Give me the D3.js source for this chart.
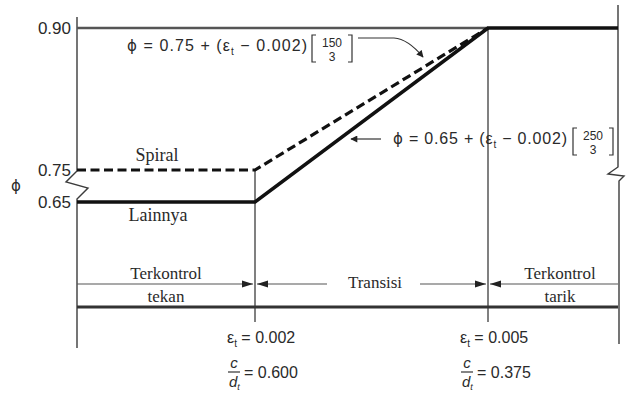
<!DOCTYPE html>
<html lang="id">
<head>
<meta charset="UTF-8" />
<title>Faktor reduksi kekuatan</title>
<script src="https://d3js.org/d3.v7.min.js"></script>
<style>
  body { margin: 0; background: #fff; }
  .num { font-family: "Liberation Sans", Arial, sans-serif; fill: #2a2a2a; }
  .lbl { font-family: "Liberation Serif", "Times New Roman", serif; fill: #2a2a2a; }
  .phi { font-family: "DejaVu Sans", sans-serif; }
</style>
</head>
<body>
<svg width="626" height="399"></svg>
<script>
// nilai phi pada sumbu tegak
var phiTicks = [0.65, 0.75, 0.90]
// regangan batas dan rasio c/dt
var strainMarks = [0.002, 0.005]
var cdRatios = ['0.600', '0.375']
// kurva phi
var spiralStrain = [0, 0.002, 0.005]
var spiralPhi = [0.75, 0.75, 0.90]
var otherStrain = [0, 0.002, 0.005, 0.007]
var otherPhi = [0.65, 0.65, 0.90, 0.90]
// label zona
var zoneNames = [['Terkontrol', 'tekan'], ['Transisi'], ['Terkontrol', 'tarik']]
var zoneEdges = [0, 0.002, 0.005, 0.007]

var svg = d3.select('svg')

// skala sengaja dipatah (diagram skematis)
var x = d3.scaleLinear().domain([0, 0.002, 0.005, 0.007]).range([77, 255, 488, 618])
var y = d3.scaleLinear().domain([0.65, 0.75, 0.90]).range([202, 170, 28])

var frame = '#3c3c3c'
var yArrow = 284, yBase = 307

// bingkai kiri dengan patahan
svg.append('path')
  .attr('d', 'M' + x(0) + ',17 V' + (y(0.75) + 1) + ' L66,182 L88,188 L' + x(0) + ',' + (y(0.65) - 3) + ' V348')
  .attr('fill', 'none').attr('stroke', frame).attr('stroke-width', 1.4)

// bingkai kanan dengan patahan
svg.append('path')
  .attr('d', 'M' + x(0.007) + ',5 V167 L608,174 L624,176 L' + (x(0.007) + 1) + ',181 V344')
  .attr('fill', 'none').attr('stroke', frame).attr('stroke-width', 1.4)

// garis atas 0.90
svg.append('line')
  .attr('x1', x(0)).attr('x2', x(0.005)).attr('y1', y(0.90)).attr('y2', y(0.90))
  .attr('stroke', '#555').attr('stroke-width', 2.4)

// garis tegak batas regangan
svg.selectAll('.vmark').data(strainMarks).enter().append('line')
  .attr('x1', function (d) { return x(d) }).attr('x2', function (d) { return x(d) })
  .attr('y1', function (d, i) { return i === 0 ? y(0.75) : y(0.90) })
  .attr('y2', 322)
  .attr('stroke', frame).attr('stroke-width', 1.3)

// garis dasar tebal
svg.append('line')
  .attr('x1', x(0)).attr('x2', x(0.007)).attr('y1', yBase).attr('y2', yBase)
  .attr('stroke', '#333').attr('stroke-width', 3)

// garis panah zona
var gaps = [[x(0), x(0.002) - 2], [x(0.002) + 2, 327], [420, x(0.005) - 2], [x(0.005) + 2, x(0.007)]]
svg.selectAll('.zline').data(gaps).enter().append('line')
  .attr('x1', function (d) { return d[0] }).attr('x2', function (d) { return d[1] })
  .attr('y1', yArrow).attr('y2', yArrow)
  .attr('stroke', '#555').attr('stroke-width', 1.2)

strainMarks.forEach(function (s) {
  var cx = x(s)
  svg.append('path')
    .attr('d', 'M' + (cx - 2) + ',' + yArrow + ' l-11,-3.5 v7 z M' + (cx + 2) + ',' + yArrow + ' l11,-3.5 v7 z')
    .attr('fill', '#222')
})

// label zona
zoneNames.forEach(function (names, i) {
  var cx = (x(zoneEdges[i]) + x(zoneEdges[i + 1])) / 2
  if (i === 2) cx = 560
  if (i === 1) cx = 375
  if (names.length === 2) {
    svg.append('text').attr('class', 'lbl').attr('x', cx).attr('y', 279)
      .attr('text-anchor', 'middle').attr('font-size', 17).text(names[0])
    svg.append('text').attr('class', 'lbl').attr('x', cx).attr('y', 302)
      .attr('text-anchor', 'middle').attr('font-size', 17).text(names[1])
  } else {
    svg.append('text').attr('class', 'lbl').attr('x', cx).attr('y', 288)
      .attr('text-anchor', 'middle').attr('font-size', 17).text(names[0])
  }
})

// kurva phi
var line = d3.line().x(function (d) { return x(d[0]) }).y(function (d) { return y(d[1]) })

svg.append('path')
  .datum(d3.zip(spiralStrain, spiralPhi))
  .attr('d', line)
  .attr('fill', 'none').attr('stroke', '#111').attr('stroke-width', 3.2)
  .attr('stroke-dasharray', '9,4.5')

svg.append('path')
  .datum(d3.zip(otherStrain, otherPhi))
  .attr('d', line)
  .attr('fill', 'none').attr('stroke', '#111').attr('stroke-width', 3.6)
  .attr('stroke-linejoin', 'miter')

// label kurva
svg.append('text').attr('class', 'lbl').attr('x', 157).attr('y', 161)
  .attr('text-anchor', 'middle').attr('font-size', 18).text('Spiral')
svg.append('text').attr('class', 'lbl').attr('x', 158).attr('y', 221)
  .attr('text-anchor', 'middle').attr('font-size', 18).text('Lainnya')

// label sumbu tegak
svg.selectAll('.ytick').data(phiTicks).enter().append('text')
  .attr('class', 'num')
  .attr('x', 71).attr('y', function (d) { return y(d) + 6 })
  .attr('text-anchor', 'end').attr('font-size', 17)
  .text(function (d) { return d.toFixed(2) })

svg.append('text').attr('class', 'phi').attr('x', 16).attr('y', 191)
  .attr('text-anchor', 'middle').attr('font-size', 15).attr('fill', '#2a2a2a').text('ϕ')

// rumus dengan kurung pecahan
function formula(x0, yb, base, num, fx, len) {
  var t = svg.append('text').attr('class', 'num').attr('x', x0).attr('y', yb).attr('font-size', 16)
  t.append('tspan').attr('class', 'phi').attr('font-size', 15).text('ϕ')
  t.append('tspan').text(' = ' + base + ' + (ε')
  t.append('tspan').attr('dy', 4).attr('font-size', 10).text('t')
  t.append('tspan').attr('dy', -4).text(' − 0.002)')
  if (len) t.attr('textLength', len).attr('lengthAdjust', 'spacing')
  var top = yb - 16, bot = yb + 11
  svg.append('path')
    .attr('d', 'M' + (fx + 4) + ',' + top + ' h-4 V' + bot + ' h4 M' + (fx + 36) + ',' + top + ' h4 V' + bot + ' h-4')
    .attr('fill', 'none').attr('stroke', '#333').attr('stroke-width', 1.2)
  svg.append('text').attr('class', 'num').attr('x', fx + 20).attr('y', yb - 4)
    .attr('text-anchor', 'middle').attr('font-size', 12).text(num)
  svg.append('text').attr('class', 'num').attr('x', fx + 20).attr('y', yb + 10)
    .attr('text-anchor', 'middle').attr('font-size', 12).text('3')
}

formula(127, 51, '0.75', '150', 312, 180)
formula(393, 144, '0.65', '250', 573, 174)

// panah penunjuk rumus
svg.append('defs').append('marker')
  .attr('id', 'head').attr('viewBox', '0 0 10 10').attr('refX', 9).attr('refY', 5)
  .attr('markerWidth', 9).attr('markerHeight', 7).attr('orient', 'auto')
  .attr('markerUnits', 'userSpaceOnUse')
  .append('path').attr('d', 'M0,0 L10,5 L0,10 z').attr('fill', '#222')

svg.append('path')
  .attr('d', 'M358,38 L394,38 Q408,39 423,57')
  .attr('fill', 'none').attr('stroke', '#333').attr('stroke-width', 1.2)
  .attr('marker-end', 'url(#head)')

svg.append('path')
  .attr('d', 'M381,139 L351,139')
  .attr('fill', 'none').attr('stroke', '#333').attr('stroke-width', 1.2)
  .attr('marker-end', 'url(#head)')

// regangan dan rasio c/dt di bawah garis tegak
strainMarks.forEach(function (s, i) {
  var x0 = x(s) - 28
  var t = svg.append('text').attr('class', 'num').attr('x', x0).attr('y', 343).attr('font-size', 16)
  t.append('tspan').text('ε')
  t.append('tspan').attr('dy', 4).attr('font-size', 10).text('t')
  t.append('tspan').attr('dy', -4).text(' = ' + s.toFixed(3))

  svg.append('text').attr('class', 'num').attr('x', x0 + 7).attr('y', 368)
    .attr('text-anchor', 'middle').attr('font-size', 15).attr('font-style', 'italic').text('c')
  svg.append('line').attr('x1', x0 + 1).attr('x2', x0 + 13).attr('y1', 372).attr('y2', 372)
    .attr('stroke', '#333').attr('stroke-width', 1.2)
  var d = svg.append('text').attr('class', 'num').attr('x', x0 + 2).attr('y', 387)
    .attr('font-size', 15).attr('font-style', 'italic')
  d.append('tspan').text('d')
  d.append('tspan').attr('dy', 3).attr('font-size', 9).text('t')
  svg.append('text').attr('class', 'num').attr('x', x0 + 17).attr('y', 378)
    .attr('font-size', 16).text('= ' + cdRatios[i])
})
</script>
</body>
</html>
